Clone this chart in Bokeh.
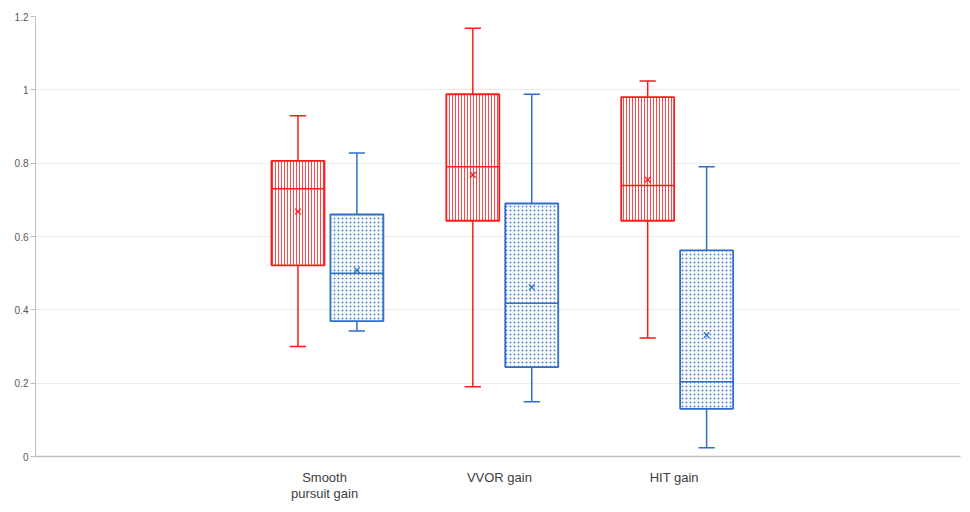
from bokeh.plotting import figure
from bokeh.models import FixedTicker, ColumnDataSource
from bokeh.embed import file_html
from bokeh.resources import INLINE

categories = ["Smooth\npursuit gain", "VVOR gain", "HIT gain"]

# series A (red)
a_min = [0.30, 0.19, 0.323]
a_q1 = [0.521, 0.643, 0.643]
a_med = [0.730, 0.790, 0.739]
a_q3 = [0.806, 0.988, 0.980]
a_max = [0.929, 1.168, 1.024]
a_mean = [0.668, 0.768, 0.755]

# series B (blue)
b_min = [0.342, 0.149, 0.024]
b_q1 = [0.369, 0.244, 0.130]
b_med = [0.500, 0.418, 0.204]
b_q3 = [0.660, 0.690, 0.562]
b_max = [0.828, 0.988, 0.790]
b_mean = [0.508, 0.462, 0.331]

y_ticks = [0, 0.2, 0.4, 0.6, 0.8, 1.0, 1.2]
y_tick_labels = ["0", "0.2", "0.4", "0.6", "0.8", "1", "1.2"]

RED = "#FF1A1A"
BLUE = "#2E6FCC"

p = figure(width=962, height=504, output_backend="svg", toolbar_location=None,
           x_range=(-0.653, 4.637), y_range=(0, 1.2),
           min_border_left=35, min_border_right=2, min_border_top=16, min_border_bottom=40)
p.outline_line_color = None
p.background_fill_color = "white"
p.border_fill_color = "white"

p.xgrid.grid_line_color = None
p.ygrid.grid_line_color = "#EDEDED"
p.ygrid.grid_line_width = 1
p.ygrid.ticker = FixedTicker(ticks=y_ticks)

p.yaxis.ticker = FixedTicker(ticks=y_ticks)
p.yaxis.major_label_overrides = {t: l for t, l in zip(y_ticks, y_tick_labels)}
p.yaxis.axis_line_color = "#BFBFBF"
p.yaxis.major_tick_line_color = "#BFBFBF"
p.yaxis.major_tick_out = 5
p.yaxis.major_tick_in = 0
p.yaxis.minor_tick_line_color = None
p.yaxis.major_label_text_font = "Liberation Sans"
p.yaxis.major_label_text_font_size = "10px"
p.yaxis.major_label_text_color = "#595959"
p.yaxis.major_label_standoff = 2

xt = [1, 2, 3]
p.xaxis.ticker = FixedTicker(ticks=xt)
p.xaxis.major_label_overrides = {t: c for t, c in zip(xt, categories)}
p.xaxis.axis_line_color = "#BFBFBF"
p.xaxis.axis_line_width = 1.5
p.xaxis.major_tick_line_color = None
p.xaxis.major_tick_out = 0
p.xaxis.major_tick_in = 0
p.xaxis.minor_tick_line_color = None
p.xaxis.major_label_text_font = "Liberation Sans"
p.xaxis.major_label_text_font_size = "13px"
p.xaxis.major_label_text_color = "#404040"
p.xaxis.major_label_text_line_height = 1.1
p.xaxis.major_label_standoff = 13

off_a = -0.152
off_b = 0.185
bw = 0.303
capw = 0.093

def draw(series_off, mn, q1, md, q3, mx, mean, color, pattern, scale, hweight, halpha):
    xs = [x + series_off for x in xt]
    src = ColumnDataSource(dict(x=xs, mn=mn, q1=q1, md=md, q3=q3, mx=mx, mean=mean,
                                xl=[x - capw / 2 for x in xs], xr=[x + capw / 2 for x in xs],
                                bl=[x - bw / 2 for x in xs], br=[x + bw / 2 for x in xs]))
    p.segment(x0="x", y0="q3", x1="x", y1="mx", source=src, line_color=color, line_width=1.5)
    p.segment(x0="x", y0="q1", x1="x", y1="mn", source=src, line_color=color, line_width=1.5)
    p.segment(x0="xl", y0="mx", x1="xr", y1="mx", source=src, line_color=color, line_width=1.5)
    p.segment(x0="xl", y0="mn", x1="xr", y1="mn", source=src, line_color=color, line_width=1.5)
    p.vbar(x="x", width=bw, top="q3", bottom="q1", source=src, fill_color="white",
           line_color=color, line_width=1.8, hatch_pattern=pattern, hatch_color=color,
           hatch_scale=scale, hatch_weight=hweight, hatch_alpha=halpha)
    p.segment(x0="bl", y0="md", x1="br", y1="md", source=src, line_color=color, line_width=1.5)
    p.scatter(x="x", y="mean", source=src, marker="x", size=8, line_color=color, line_width=1.3)

draw(off_a, a_min, a_q1, a_med, a_q3, a_max, a_mean, RED, "vertical_line", 3, 1, 0.8)
draw(off_b, b_min, b_q1, b_med, b_q3, b_max, b_mean, BLUE, "dot", 4, 1.4, 0.85)

open("out.html", "w").write(file_html(p, INLINE))
